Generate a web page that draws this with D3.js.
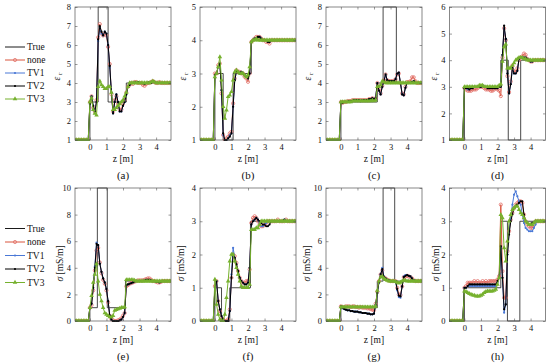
<!DOCTYPE html>
<html><head><meta charset="utf-8">
<script src="https://cdn.jsdelivr.net/npm/d3@7/dist/d3.min.js"></script>
<style>body{margin:0;background:#fff}svg{display:block}text{font-family:"Liberation Serif","DejaVu Serif",serif;fill:#111}</style>
</head><body><svg id="c" width="550" height="363"></svg>
<script>
// ---------- DATA ----------
const z = [-0.9,-0.8,-0.7,-0.6,-0.5,-0.4,-0.3,-0.2,-0.1,0,0.1,0.2,0.3,0.4,0.5,0.6,0.7,0.8,0.9,1,1.1,1.2,1.3,1.4,1.5,1.6,1.7,1.8,1.9,2,2.1,2.2,2.3,2.4,2.5,2.6,2.7,2.8,2.9,3,3.1,3.2,3.3,3.4,3.5,3.6,3.7,3.8,3.9,4,4.1,4.2,4.3,4.4,4.5,4.6,4.7,4.8,4.9];
const seriesNames = ["True","none","TV1","TV2","TV3"];
const xTicks = [0,1,2,3,4];
const ticksEps8 = [1,2,3,4,5,6,7,8];
const ticksEps5 = [1,2,3,4,5];
const ticksEps6 = [1,2,3,4,5,6];
const ticksSig10 = [0,2,4,6,8,10];
const ticksSig4 = [0,1,2,3,4];
const panelLabels = ["(a)","(b)","(c)","(d)","(e)","(f)","(g)","(h)"];

// true profiles (step breakpoints)
const trueA_z=[-0.9,0,0.5,1.1,2.2,4.9], trueA_v=[1,3,8,3,4,4];
const trueB_z=[-0.9,0,0.5,1.1,2.2,4.9], trueB_v=[1,3,1,3,4,4];
const trueC_z=[-0.9,0,2.2,2.55,3.35,4.9], trueC_v=[1,3,4,8,4,4];
const trueD_z=[-0.9,0,2.2,2.65,3.4,4.9], trueD_v=[1,3,4,1,4,4];
const trueE_z=[-0.9,0,0.45,1.05,2.15,4.9], trueE_v=[0,1,10,1,3,3];
const trueF_z=[-0.9,0,0.4,0.9,2.15,4.9], trueF_v=[0,1,0,1,3,3];
const trueG_z=[-0.9,0,2.2,2.55,3.25,4.9], trueG_v=[0,1,3,10,3,3];
const trueH_z=[-0.9,0,2.2,2.6,3.35,4.9], trueH_v=[0,1,3,0,3,3];

// (a) eps
const epsA_none=[1,1,1,1,1,1,1,1,1, 3.0,3.3,2.7,2.5,3.1,6.4,7.1,6.6,6.5,6.6, 6.5,5.9,5.0,3.4,2.5,3.1,3.3,2.9,2.6,2.6, 2.9,3.1,3.5,3.8,3.9,4.0,3.95,4.05,4.05,4.0, 4.0,4.0,3.9,3.85,3.95,4.0,4.0,4.05,4.1,4.05, 4.0,4.0,4.05,4.0,4.0,4.0,4.0,4.0,4.0,4.0];
const epsA_tv1=[1,1,1,1,1,1,1,1,1, 2.9,3.3,2.8,2.5,3.0,6.2,6.9,6.6,6.5,6.7, 6.6,6.0,4.8,3.5,2.4,3.0,3.4,3.0,2.5,2.5, 2.8,3.0,3.4,3.8,3.9,4.0,4.0,4.05,4.0,4.05, 4.0,4.0,4.0,3.95,4.0,4.0,4.05,4.0,4.1,4.05, 4.0,4.0,4.0,4.0,4.0,4.0,4.0,4.0,4.0,4.0];
const epsA_tv2=[1,1,1,1,1,1,1,1,1, 2.9,3.3,2.8,2.5,3.0,6.3,7.0,6.7,6.5,6.7, 6.6,6.0,4.9,3.5,2.4,3.0,3.4,3.0,2.5,2.5, 2.8,3.0,3.4,3.8,3.9,4.0,4.0,4.05,4.0,4.05, 4.0,4.0,4.0,3.95,4.0,4.0,4.05,4.0,4.1,4.05, 4.0,4.0,4.0,4.0,4.0,4.0,4.0,4.0,4.0,4.0];
const epsA_tv3=[1,1,1,1,1,1,1,1,1, 3.0,3.2,2.6,2.4,2.3,3.8,4.1,3.9,3.8,3.7, 3.7,3.8,3.8,3.5,2.6,2.6,2.7,2.8,2.9,3.0, 3.1,3.3,3.5,3.8,4.0,4.0,4.0,4.0,4.0,4.0, 4.0,4.0,4.0,4.0,4.0,4.0,4.0,4.05,4.1,4.05, 4.0,4.0,4.0,4.0,4.0,4.0,4.0,4.0,4.0,4.0];
// (b) eps
const epsB_none=[1,1,1,1,1,1,1,1,1, 3.0,3.0,3.25,3.3,2.4,1.15,1.0,1.05,1.1,1.2, 1.25,2.1,2.85,3.1,3.05,3.05,3.0,3.0,2.9,2.85, 2.75,3.0,3.95,4.0,4.05,4.1,4.1,4.1,4.05,4.0, 4.0,3.95,3.95,3.9,4.0,4.0,4.0,4.0,4.0,4.0, 4.0,4.0,4.0,4.0,4.0,4.0,4.0,4.0,4.0,4.0];
const epsB_tv1=[1,1,1,1,1,1,1,1,1, 2.95,3.0,3.2,3.3,2.5,1.15,1.0,1.0,1.05,1.15, 1.2,2.0,2.8,3.05,3.05,3.0,3.05,3.0,2.95,2.9, 2.85,3.0,3.95,4.0,4.05,4.05,4.1,4.1,4.05,4.0, 4.0,4.0,3.95,3.95,4.0,4.0,4.0,4.0,4.0,4.0, 4.0,4.0,4.0,4.0,4.0,4.0,4.0,4.0,4.0,4.0];
const epsB_tv2=[1,1,1,1,1,1,1,1,1, 2.95,3.0,3.2,3.3,2.5,1.2,1.0,1.0,1.05,1.1, 1.2,2.0,2.8,3.05,3.05,3.0,3.05,3.0,2.95,2.9, 2.85,3.0,3.95,4.0,4.05,4.05,4.1,4.1,4.05,4.0, 4.0,4.0,3.95,3.95,4.0,4.0,4.0,4.0,4.0,4.0, 4.0,4.0,4.0,4.0,4.0,4.0,4.0,4.0,4.0,4.0];
const epsB_tv3=[1,1,1,1,1,1,1,1,1, 2.9,3.0,3.2,3.5,2.8,2.0,1.65,1.9,2.3,2.35, 2.45,2.8,3.05,3.1,3.05,3.0,3.0,3.0,2.95,2.9, 2.95,3.2,3.95,4.0,4.0,4.05,4.0,4.0,4.0,4.0, 4.0,4.0,4.0,4.0,4.0,4.0,4.0,4.0,4.0,4.0, 4.0,4.0,4.0,4.0,4.0,4.0,4.0,4.0,4.0,4.0];
// (c) eps
const epsC_none=[1,1,1,1,1,1,1,1,1, 3.0,2.95,3.0,3.0,3.05,3.05,3.05,3.1,3.1,3.1, 3.1,3.1,3.1,3.1,3.1,3.1,3.1,3.15,3.15,3.2, 3.15,3.2,4.0,3.65,3.45,3.85,4.15,4.45,4.15,4.1, 4.1,4.1,4.1,4.2,4.45,4.5,4.0,3.45,3.4,3.8, 4.05,4.05,4.1,4.3,4.3,4.1,4.0,4.0,4.0,4.0];
const epsC_tv1=[1,1,1,1,1,1,1,1,1, 3.0,3.0,3.0,3.0,3.0,3.05,3.05,3.05,3.1,3.1, 3.1,3.1,3.05,3.1,3.1,3.1,3.1,3.15,3.15,3.2, 3.15,3.2,4.0,3.6,3.4,3.8,4.1,4.4,4.15,4.1, 4.1,4.1,4.1,4.2,4.5,4.55,4.0,3.4,3.35,3.75, 4.0,4.0,4.0,4.05,4.1,4.0,4.0,4.0,4.0,4.0];
const epsC_tv2=[1,1,1,1,1,1,1,1,1, 3.0,2.95,3.0,3.0,3.0,3.05,3.05,3.05,3.1,3.1, 3.1,3.1,3.05,3.1,3.1,3.1,3.1,3.15,3.15,3.2, 3.15,3.2,4.0,3.6,3.4,3.8,4.1,4.45,4.15,4.1, 4.1,4.1,4.1,4.2,4.5,4.55,4.0,3.4,3.35,3.75, 4.0,4.0,4.0,4.05,4.1,4.0,4.0,4.0,4.0,4.0];
const epsC_tv3=[1,1,1,1,1,1,1,1,1, 3.0,3.0,3.0,3.0,3.0,3.0,3.0,3.05,3.05,3.05, 3.05,3.05,3.05,3.05,3.05,3.05,3.05,3.05,3.05,3.1, 3.05,3.1,3.8,3.8,3.9,4.1,4.05,4.0,4.0,4.0, 4.0,4.0,4.0,4.0,4.0,4.0,4.0,4.0,4.0,4.0, 4.0,4.0,4.0,4.0,4.0,4.0,4.0,4.0,4.0,4.0];
// (d) eps
const epsD_none=[1,1,1,1,1,1,1,1,1, 2.95,2.9,2.85,2.85,2.85,2.9,2.9,2.9,2.95,3.0, 3.0,3.0,2.95,2.9,2.9,2.9,2.85,2.85,2.9,2.95, 2.9,2.85,2.65,4.1,5.2,4.75,3.4,2.8,3.2,3.8, 3.6,3.55,3.7,4.0,4.1,4.15,4.25,4.2,4.05,4.0, 3.95,3.95,4.0,4.0,4.0,4.0,4.0,4.0,4.0,4.0];
const epsD_tv1=[1,1,1,1,1,1,1,1,1, 2.95,2.95,2.9,2.9,2.95,2.95,3.0,3.0,3.0,3.0, 3.0,3.05,3.0,3.0,2.95,2.95,2.95,2.95,2.95,2.95, 2.95,3.0,3.0,4.2,5.2,4.8,3.5,2.75,3.1,3.7, 3.5,3.5,3.6,4.05,4.1,4.1,4.1,4.1,4.05,4.0, 3.95,3.95,4.0,4.0,4.0,4.0,4.0,4.0,4.0,4.0];
const epsD_tv2=[1,1,1,1,1,1,1,1,1, 2.95,2.95,2.95,2.9,2.95,2.95,3.0,3.0,3.0,3.0, 3.0,3.05,3.0,3.0,2.95,2.95,2.95,2.95,2.95,2.95, 2.95,3.0,3.0,4.2,5.3,4.8,3.5,2.75,3.1,3.7, 3.5,3.5,3.6,4.05,4.1,4.1,4.1,4.1,4.05,4.0, 3.95,3.95,4.0,4.0,4.0,4.0,4.0,4.0,4.0,4.0];
const epsD_tv3=[1,1,1,1,1,1,1,1,1, 3.0,3.0,3.0,3.0,3.0,3.0,3.0,3.0,3.0,3.05, 3.05,3.05,3.0,3.0,3.0,3.0,3.0,3.0,3.0,3.0, 3.0,3.05,3.1,3.95,4.5,4.6,3.7,3.7,3.7,3.8, 3.9,4.0,4.05,4.1,4.1,4.1,4.05,4.05,4.0,4.0, 4.0,4.0,4.0,4.0,4.0,4.0,4.0,4.0,4.0,4.0];
// (e) sigma
const sigE_none=[0,0,0,0,0,0,0,0,0, 1.0,1.2,2.3,3.8,5.3,5.5,4.4,3.6,3.1,2.8, 2.3,1.4,0.4,0.15,0.05,0.0,0.0,0.05,0.1,0.2, 0.4,0.6,2.6,2.7,2.8,2.85,2.9,2.95,3.0,3.05, 3.05,3.05,3.05,3.1,3.15,3.2,3.2,3.1,3.0,3.0, 2.95,2.9,2.9,2.95,3.0,3.0,3.0,3.0,3.0,3.0];
const sigE_tv1=[0,0,0,0,0,0,0,0,0, 1.0,1.3,2.5,4.1,5.9,5.7,4.3,3.7,3.2,2.9, 2.4,1.5,0.4,0.1,0.0,0.0,0.0,0.0,0.05,0.1, 0.3,0.6,2.7,2.75,2.8,2.85,2.9,2.95,3.0,3.0, 3.0,3.0,3.0,3.05,3.1,3.1,3.1,3.05,3.0,3.0, 2.95,2.95,2.9,2.95,3.0,3.0,3.0,3.0,3.0,3.0];
const sigE_tv2=[0,0,0,0,0,0,0,0,0, 1.0,1.3,2.5,4.0,5.8,5.7,4.3,3.7,3.2,2.9, 2.4,1.5,0.4,0.1,0.0,0.0,0.0,0.0,0.05,0.1, 0.3,0.6,2.7,2.75,2.8,2.85,2.9,2.95,3.0,3.0, 3.0,3.0,3.0,3.05,3.1,3.1,3.1,3.05,3.0,3.0, 2.95,2.95,2.9,2.95,3.0,3.0,3.0,3.0,3.0,3.0];
const sigE_tv3=[0,0,0,0,0,0,0,0,0, 1.0,1.9,2.9,3.5,4.3,3.0,2.0,1.5,1.0,0.6, 0.5,0.4,0.3,0.3,0.4,0.8,0.85,0.9,0.95,1.0, 1.0,1.05,3.1,3.1,3.1,3.1,3.1,3.05,3.0,3.0, 3.0,3.0,3.0,3.0,3.0,3.0,3.0,3.0,3.0,3.0, 3.0,3.0,3.0,3.0,3.0,3.0,3.0,3.0,3.0,3.0];
// (f) sigma
const sigF_none=[0,0,0,0,0,0,0,0,0, 1.05,1.2,0.6,0.3,0.1,0.05,0.0,0.0,0.05,0.35, 1.3,2.0,1.95,1.75,1.5,1.3,1.2,1.15,1.15,1.2, 1.2,1.55,2.95,3.1,3.15,3.1,3.0,2.9,2.85,2.85, 2.9,2.95,3.0,3.0,3.0,3.0,3.0,3.0,3.05,3.0, 3.0,3.0,3.0,3.05,3.0,3.0,3.0,3.0,3.0,3.0];
const sigF_tv1=[0,0,0,0,0,0,0,0,0, 1.0,1.2,0.6,0.35,0.15,0.05,0.0,0.0,0.0,0.3, 1.4,2.2,1.9,1.7,1.5,1.3,1.2,1.15,1.1,1.1, 1.15,1.6,2.9,3.0,3.05,3.1,3.05,2.95,2.85,2.85, 2.9,2.95,3.0,3.0,3.0,3.0,3.0,3.0,3.0,3.0, 3.0,3.0,3.05,3.0,3.0,3.0,3.0,3.0,3.0,3.0];
const sigF_tv2=[0,0,0,0,0,0,0,0,0, 1.0,1.2,0.6,0.35,0.15,0.05,0.0,0.0,0.0,0.3, 1.3,2.0,1.9,1.7,1.5,1.3,1.2,1.15,1.1,1.1, 1.15,1.6,2.9,3.0,3.05,3.1,3.05,3.0,2.95,2.9, 2.9,2.85,2.85,2.9,3.0,3.0,3.0,3.0,3.0,3.0, 3.0,3.0,3.05,3.0,3.0,3.0,3.0,3.0,3.0,3.0];
const sigF_tv3=[0,0,0,0,0,0,0,0,0, 1.25,0.5,0.2,0.05,0.0,0.0,0.2,0.7,1.2,1.8, 2.0,2.0,1.8,1.6,1.4,1.2,1.05,1.0,1.0,1.0, 1.0,1.1,2.75,2.75,2.75,2.8,2.8,2.9,3.0,3.0, 3.0,3.0,3.0,3.0,3.0,3.0,3.0,3.0,3.0,3.0, 3.0,3.0,3.0,3.0,3.0,3.0,3.0,3.0,3.0,3.0];
// (g) sigma
const sigG_none=[0,0,0,0,0,0,0,0,0, 1.1,1.05,1.05,1.1,1.1,1.1,1.05,1.1,1.1,1.05, 1.05,1.0,1.05,1.0,1.0,1.0,0.95,0.95,0.9,0.85, 0.8,1.3,2.2,3.0,3.5,3.8,3.3,3.2,3.1,3.05, 3.0,3.0,3.0,3.0,2.5,2.0,1.95,2.6,3.3,3.35, 3.4,3.35,3.3,3.2,3.05,3.0,3.0,3.0,3.0,3.0];
const sigG_tv1=[0,0,0,0,0,0,0,0,0, 1.05,0.95,0.9,0.85,0.8,0.8,0.75,0.75,0.7,0.7, 0.7,0.65,0.65,0.6,0.6,0.6,0.55,0.55,0.5,0.5, 0.55,1.2,2.1,2.9,3.5,4.0,3.35,3.2,3.1,3.05, 3.0,3.0,3.0,3.0,2.3,1.8,1.75,2.6,3.35,3.45, 3.45,3.4,3.35,3.2,3.05,3.0,3.0,3.0,3.0,3.0];
const sigG_tv2=[0,0,0,0,0,0,0,0,0, 1.1,1.0,0.9,0.85,0.8,0.8,0.75,0.75,0.7,0.7, 0.7,0.65,0.65,0.6,0.6,0.6,0.55,0.55,0.5,0.5, 0.55,1.2,2.1,2.9,3.5,3.9,3.3,3.2,3.1,3.05, 3.0,3.0,3.0,3.0,2.4,1.9,1.85,2.6,3.3,3.4, 3.45,3.4,3.35,3.2,3.05,3.0,3.0,3.0,3.0,3.0];
const sigG_tv3=[0,0,0,0,0,0,0,0,0, 1.05,1.05,1.05,1.05,1.05,1.05,1.05,1.05,1.05,1.05, 1.05,1.05,1.05,1.05,1.05,1.05,1.05,1.05,1.05,1.05, 1.05,1.1,2.3,3.0,3.3,3.35,3.2,3.1,3.05,3.0, 3.0,3.0,3.0,2.95,2.9,2.85,2.9,3.0,3.05,3.05, 3.0,3.0,3.0,3.0,3.0,3.0,3.0,3.0,3.0,3.0];
// (h) sigma
const sigH_none=[0,0,0,0,0,0,0,0,0, 1.0,1.05,1.15,1.15,1.15,1.15,1.2,1.15,1.2,1.15, 1.15,1.2,1.15,1.2,1.15,1.2,1.2,1.2,1.2,1.2, 1.25,1.35,3.5,1.5,0.7,0.7,2.1,2.7,3.05,3.25, 3.4,3.5,3.55,3.6,3.6,3.55,3.2,3.0,2.9,2.85, 2.8,2.8,2.9,3.0,3.0,3.0,3.0,3.0,3.0,3.0];
const sigH_tv1=[0,0,0,0,0,0,0,0,0, 1.0,1.0,1.05,1.05,1.05,1.05,1.05,1.05,1.05,1.05, 1.05,1.05,1.05,1.05,1.05,1.05,1.05,1.05,1.05,1.05, 1.15,1.3,2.2,1.3,0.25,0.5,2.0,2.7,3.1,3.5, 3.8,3.9,3.75,3.6,3.5,3.2,2.95,2.8,2.75,2.7, 2.7,2.7,2.8,2.9,3.0,3.0,3.0,3.0,3.0,3.0];
const sigH_tv2=[0,0,0,0,0,0,0,0,0, 1.0,1.0,1.05,1.1,1.1,1.1,1.1,1.1,1.1,1.1, 1.1,1.1,1.1,1.1,1.1,1.1,1.1,1.1,1.1,1.1, 1.2,1.3,2.25,1.3,0.35,0.5,2.0,2.6,3.0,3.2, 3.4,3.45,3.5,3.55,3.6,3.6,3.2,3.0,2.95,2.9, 2.9,2.95,2.95,3.0,3.0,3.0,3.0,3.0,3.0,3.0];
const sigH_tv3=[0,0,0,0,0,0,0,0,0, 0.9,0.88,0.85,0.82,0.8,0.78,0.77,0.75,0.75,0.75, 0.77,0.8,0.85,0.88,0.9,0.9,0.9,0.9,0.92,0.95, 1.1,1.3,3.2,3.1,2.2,1.8,2.4,3.0,3.2,3.35, 3.4,3.45,3.45,3.35,3.25,3.2,3.1,3.0,2.95,2.9, 2.9,2.9,2.95,3.0,3.0,3.0,3.0,3.0,3.0,3.0];

// ---------- LAYOUT / STYLE ----------
const W = 96, H = 133;
const lefts = [75, 200, 326, 449.5];
const tops = [7, 188];
const colors = {True:"#1a1a1a", none:"#d9553c", TV1:"#4a78d6", TV2:"#000000", TV3:"#76b12e"};

const panels = [
  {row:0,col:0,yd:[1,8],yt:ticksEps8,lab:"eps",tz:trueA_z,tv:trueA_v,s:[epsA_none,epsA_tv1,epsA_tv2,epsA_tv3],lo:-18},
  {row:0,col:1,yd:[1,5],yt:ticksEps5,lab:"eps",tz:trueB_z,tv:trueB_v,s:[epsB_none,epsB_tv1,epsB_tv2,epsB_tv3],lo:-17},
  {row:0,col:2,yd:[1,8],yt:ticksEps8,lab:"eps",tz:trueC_z,tv:trueC_v,s:[epsC_none,epsC_tv1,epsC_tv2,epsC_tv3],lo:-18},
  {row:0,col:3,yd:[1,6],yt:ticksEps6,lab:"eps",tz:trueD_z,tv:trueD_v,s:[epsD_none,epsD_tv1,epsD_tv2,epsD_tv3],lo:-16},
  {row:1,col:0,yd:[0,10],yt:ticksSig10,lab:"sig",tz:trueE_z,tv:trueE_v,s:[sigE_none,sigE_tv1,sigE_tv2,sigE_tv3],lo:-15},
  {row:1,col:1,yd:[0,4],yt:ticksSig4,lab:"sig",tz:trueF_z,tv:trueF_v,s:[sigF_none,sigF_tv1,sigF_tv2,sigF_tv3],lo:-19},
  {row:1,col:2,yd:[0,10],yt:ticksSig10,lab:"sig",tz:trueG_z,tv:trueG_v,s:[sigG_none,sigG_tv1,sigG_tv2,sigG_tv3],lo:-19},
  {row:1,col:3,yd:[0,4],yt:ticksSig4,lab:"sig",tz:trueH_z,tv:trueH_v,s:[sigH_none,sigH_tv1,sigH_tv2,sigH_tv3],lo:-13.5}
];

const svg = d3.select("#c");
const defs = svg.append("defs");

function marker(g, name, px, py) {
  const c = colors[name];
  if (name === "none") {
    g.append("circle").attr("cx",px).attr("cy",py).attr("r",1.6)
     .attr("fill","none").attr("stroke","#e2706a").attr("stroke-width",0.8);
  } else if (name === "TV1") {
    g.append("circle").attr("cx",px).attr("cy",py).attr("r",1.1).attr("fill",c);
  } else if (name === "TV2") {
    g.append("circle").attr("cx",px).attr("cy",py).attr("r",1.1).attr("fill",c);
  } else if (name === "TV3") {
    g.append("path").attr("transform",`translate(${px},${py})`)
     .attr("d", d3.symbol(d3.symbolTriangle, 9)()).attr("fill",c);
  }
}

panels.forEach((p, i) => {
  const L = lefts[p.col], T = tops[p.row];
  const x = d3.scaleLinear().domain([-0.9, 4.9]).range([L, L + W]);
  const y = d3.scaleLinear().domain(p.yd).range([T + H, T]);
  const g = svg.append("g");

  defs.append("clipPath").attr("id","clip"+i).append("rect")
    .attr("x",L).attr("y",T-1).attr("width",W).attr("height",H+2);

  const plot = g.append("g").attr("clip-path",`url(#clip${i})`);

  // true profile
  const tdata = p.tz.map((zz,k)=>[zz,p.tv[k]]);
  plot.append("path").datum(tdata)
    .attr("d", d3.line().x(d=>x(d[0])).y(d=>y(d[1])).curve(d3.curveStepAfter))
    .attr("fill","none").attr("stroke",colors.True).attr("stroke-width",0.8);

  // estimates
  ["none","TV1","TV2","TV3"].forEach((nm, k) => {
    const vals = p.s[k];
    const data = z.map((zz, j) => [zz, vals[j]]);
    plot.append("path").datum(data)
      .attr("d", d3.line().x(d=>x(d[0])).y(d=>y(d[1])))
      .attr("fill","none").attr("stroke",colors[nm]).attr("stroke-width",1);
    const mg = plot.append("g");
    data.forEach(d => marker(mg, nm, x(d[0]), y(d[1])));
  });

  // axes (inward ticks on all sides)
  const ax = (axis, tr, labels) => {
    const a = g.append("g").attr("transform", tr).call(axis);
    a.select(".domain").remove();
    a.selectAll(".tick line").attr("stroke","#555").attr("stroke-width",0.6);
    a.selectAll("text").style("font-size","8.5px").attr("fill","#111");
    if (!labels) a.selectAll("text").remove();
    return a;
  };
  ax(d3.axisBottom(x).tickValues(xTicks).tickSize(-2.5).tickPadding(3.5).tickFormat(d3.format("d")), `translate(0,${T+H})`, true);
  ax(d3.axisTop(x).tickValues(xTicks).tickSize(-2.5), `translate(0,${T})`, false);
  ax(d3.axisLeft(y).tickValues(p.yt).tickSize(-2.5).tickPadding(4).tickFormat(d3.format("d")), `translate(${L},0)`, true);
  ax(d3.axisRight(y).tickValues(p.yt).tickSize(-2.5), `translate(${L+W},0)`, false);

  g.append("rect").attr("x",L).attr("y",T).attr("width",W).attr("height",H)
    .attr("fill","none").attr("stroke","#555").attr("stroke-width",0.7);

  // x label and panel label
  g.append("text").attr("x",L+W/2).attr("y",T+H+22).attr("text-anchor","middle")
    .style("font-size","9.5px").text("z [m]");
  g.append("text").attr("x",L+W/2).attr("y",T+H+38.5).attr("text-anchor","middle")
    .style("font-size","11px").text(panelLabels[i]);

  // y label
  const yl = g.append("text").attr("text-anchor","middle")
    .attr("transform",`translate(${L+p.lo+3},${T+H/2+ (p.lab==="sig"?9:3)}) rotate(-90)`)
    .style("font-size", "9.5px");
  if (p.lab === "eps") {
    yl.append("tspan").style("font-style","italic").text("ε");
    yl.append("tspan").attr("dy","2").style("font-size","7px").text(" r");
  } else {
    yl.append("tspan").style("font-style","italic").text("σ");
    yl.append("tspan").text(" [mS/m]");
  }
});

// legends
[[47,13],[228.5,13.5]].forEach(([y0,dy]) => {
  seriesNames.forEach((nm, k) => {
    const yy = y0 + k*dy;
    const lg = svg.append("g");
    lg.append("line").attr("x1",5).attr("x2",25).attr("y1",yy).attr("y2",yy)
      .attr("stroke",colors[nm]).attr("stroke-width",1);
    marker(lg, nm, 15, yy);
    lg.append("text").attr("x",27).attr("y",yy+3).style("font-size","9.5px").text(nm);
  });
});
</script></body></html>
